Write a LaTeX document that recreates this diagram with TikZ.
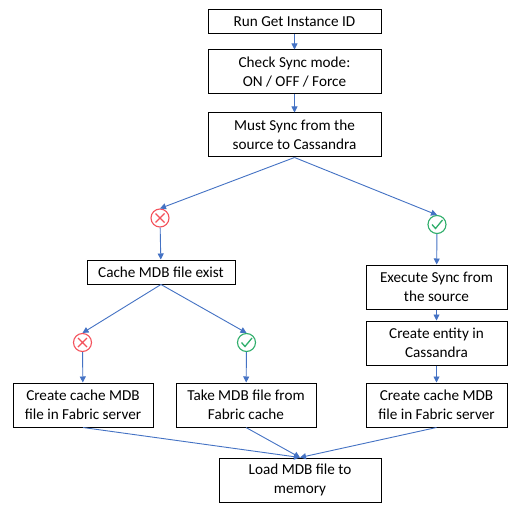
\documentclass[tikz,border=0pt]{standalone}
\usepackage{fontspec}
\setmainfont{Carlito}
\usetikzlibrary{arrows.meta,calc}
\definecolor{arrowblue}{HTML}{4472C4}
\definecolor{crossred}{HTML}{F4525C}
\definecolor{checkgreen}{HTML}{2FAE6B}
\tikzset{
  x=1pt,y=-1pt,
  flowbox/.style={draw=black,line width=1pt,fill=white,align=center,inner sep=0pt,font=\fontsize{15.2}{19}\selectfont},
  icon/.style={circle,minimum size=18pt,inner sep=0pt,line width=1.1pt,fill=white},
  crossicon/.style={icon,draw=crossred},
  checkicon/.style={icon,draw=checkgreen},
  flow/.style={draw=arrowblue,line width=0.9pt,-{Triangle[length=6pt,width=6pt]}},
}
\newcommand{\boxat}[6]{\node[flowbox,minimum width=#4 pt,minimum height=#5 pt] (#1) at (#2,#3) {#6};}
\begin{document}
\begin{tikzpicture}
\useasboundingbox (0,0) rectangle (527,513);
\fill[white] (0,0) rectangle (527,513);
\boxat{run}{294.5}{22}{173}{24}{Run Get Instance ID}
\boxat{check}{294.5}{72}{173}{44}{Check Sync mode:\\ON / OFF / Force}
\boxat{must}{294.5}{135}{173}{44}{Must Sync from the\\source to Cassandra}
\boxat{cache}{161}{272}{148}{24}{Cache MDB file exist}
\boxat{exec}{436.5}{287}{141}{44}{Execute Sync from\\the source}
\boxat{entity}{436.5}{343}{141}{44}{Create entity in\\Cassandra}
\boxat{cright}{436.5}{405}{141}{44}{Create cache MDB\\file in Fabric server}
\boxat{cleft}{83}{405}{140}{44}{Create cache MDB\\file in Fabric server}
\boxat{take}{246}{405}{140}{44}{Take MDB file from\\Fabric cache}
\boxat{load}{300}{480}{162}{44}{Load MDB file to\\memory}
\node[crossicon] (x1) at (160,218) {};
\node[crossicon] (x2) at (82.5,342.5) {};
\node[checkicon] (v1) at (437,224.5) {};
\node[checkicon] (v2) at (246.5,342.5) {};
\foreach \n in {x1,x2}{
  \draw[crossred,line width=1.1pt] ($(\n)+(-4.5,-4.5)$) -- ($(\n)+(4.5,4.5)$) ($(\n)+(4.5,-4.5)$) -- ($(\n)+(-4.5,4.5)$);
}
\foreach \n in {v1,v2}{
  \draw[checkgreen,line width=1.3pt] ($(\n)+(-5,0)$) -- ($(\n)+(-1.5,4)$) -- ($(\n)+(5.5,-4.5)$);
}
\draw[flow] (run) -- (check);
\draw[flow] (check) -- (must);
\draw[flow] (must.south) -- (x1.north);
\draw[flow] (must.south) -- (v1.north);
\draw[flow] (x1) -- (cache);
\draw[flow] (v1) -- (exec);
\draw[flow] (exec) -- (entity);
\draw[flow] (entity) -- (cright);
\draw[flow] (cache.south) -- (x2.north);
\draw[flow] (cache.south) -- (v2.north);
\draw[flow] (x2) -- (cleft);
\draw[flow] (v2) -- (take);
\draw[flow] (cleft.south) -- (load.north);
\draw[flow] (take.south) -- (load.north);
\draw[flow] (cright.south) -- (load.north);
\end{tikzpicture}
\end{document}
